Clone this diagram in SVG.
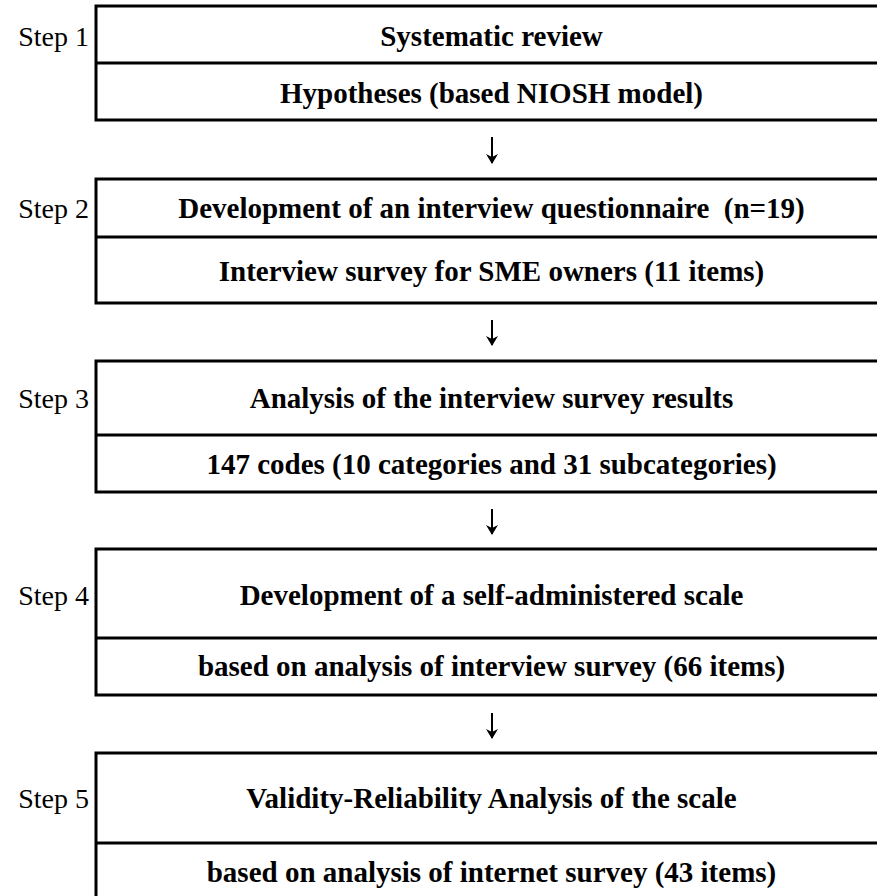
<svg xmlns="http://www.w3.org/2000/svg" width="877" height="896" viewBox="0 0 877 896">
<style>
.ln{stroke:#000;stroke-width:3;fill:none}
.step{font-family:"Liberation Serif","Times New Roman",serif;font-size:28px;text-anchor:end;fill:#000}
.t{font-family:"Liberation Serif","Times New Roman",serif;font-size:29px;font-weight:bold;text-anchor:middle;fill:#000}
.arr{stroke:#000;stroke-width:2;fill:none}
</style>
<defs>
<marker id="ah" viewBox="0 0 10 12" refX="9" refY="6" markerWidth="10" markerHeight="12" markerUnits="userSpaceOnUse" orient="auto">
<path d="M0,0 L10,6 L0,12 L3,6 Z" fill="#000"/>
</marker>
</defs>
<rect width="877" height="896" fill="#fff"/>
<g id="step1">
<path class="ln" d="M880,6 H96 V120 H880 M96,63 H880"/>
<text class="step" x="89" y="46">Step 1</text>
<text class="t" x="491.5" y="46">Systematic review</text>
<text class="t" x="491.5" y="103">Hypotheses (based NIOSH model)</text>
</g>
<g id="step2">
<path class="ln" d="M880,179 H96 V303 H880 M96,237 H880"/>
<text class="step" x="89" y="218">Step 2</text>
<text class="t" x="491.5" y="218" xml:space="preserve">Development of an interview questionnaire  (n=19)</text>
<text class="t" x="491.5" y="281">Interview survey for SME owners (11 items)</text>
</g>
<g id="step3">
<path class="ln" d="M880,361 H96 V492 H880 M96,435 H880"/>
<text class="step" x="89" y="408">Step 3</text>
<text class="t" x="491.5" y="408">Analysis of the interview survey results</text>
<text class="t" x="491.5" y="474">147 codes (10 categories and 31 subcategories)</text>
</g>
<g id="step4">
<path class="ln" d="M880,549 H96 V695 H880 M96,638 H880"/>
<text class="step" x="89" y="605">Step 4</text>
<text class="t" x="491.5" y="605">Development of a self-administered scale</text>
<text class="t" x="491.5" y="676">based on analysis of interview survey (66 items)</text>
</g>
<g id="step5">
<path class="ln" d="M880,753 H96 V900 M96,843 H880"/>
<text class="step" x="89" y="808">Step 5</text>
<text class="t" x="491.5" y="808">Validity-Reliability Analysis of the scale</text>
<text class="t" x="491.5" y="882">based on analysis of internet survey (43 items)</text>
</g>
<g id="connectors">
<line class="arr" x1="492" y1="137" x2="492" y2="163" marker-end="url(#ah)"/>
<line class="arr" x1="492" y1="320" x2="492" y2="345" marker-end="url(#ah)"/>
<line class="arr" x1="492" y1="509" x2="492" y2="534" marker-end="url(#ah)"/>
<line class="arr" x1="492" y1="713" x2="492" y2="738" marker-end="url(#ah)"/>
</g>
</svg>
